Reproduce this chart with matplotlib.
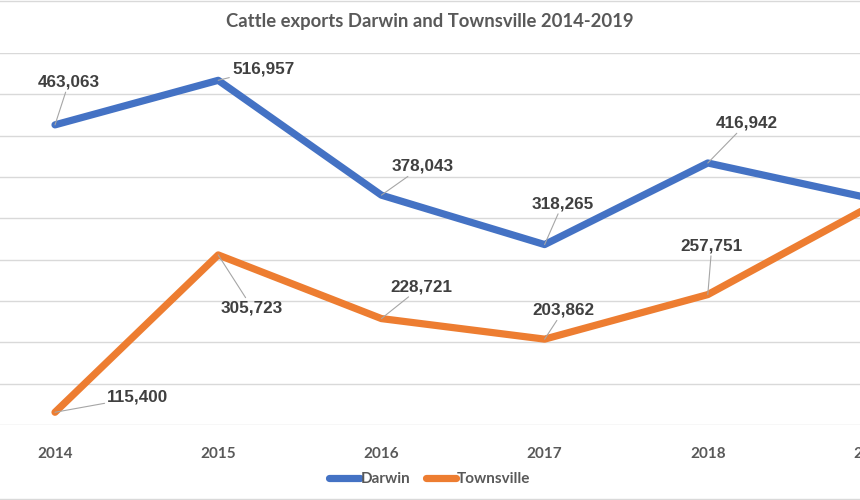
import matplotlib
matplotlib.use("Agg")
import matplotlib.pyplot as plt
from matplotlib.lines import Line2D

# data
years = ["2014", "2015", "2016", "2017", "2018", "2019"]
darwin = [463063, 516957, 378043, 318265, 416942, 374000]
townsville = [115400, 305723, 228721, 203862, 257751, 365000]

# label offsets (pixels) for the data labels that fall inside the crop
darwin_off = [(14, 43), (45, 11), (41, 29), (18, 41), (39, 40)]
townsville_off = [(83, 15), (34, -53), (40, 32), (19, 29), (4, 49)]

grey = "#595959"
blue = "#4472C4"
orange = "#ED7D31"

fig = plt.figure(figsize=(8.6, 5), dpi=100)
# the chart is cropped on the right: axes run past the figure edge
px = 163.2  # pixels per category
x0, x1 = -55 / px, 5.5
ax = fig.add_axes([0, 1 - 425 / 500, (x1 - x0) * px / 860, (425 - 53) / 500])

x = list(range(len(years)))
ax.plot(x, darwin, color=blue, lw=5.2, solid_capstyle="round",
        solid_joinstyle="round", label="Darwin", zorder=3)
ax.plot(x, townsville, color=orange, lw=5.2, solid_capstyle="round",
        solid_joinstyle="round", label="Townsville", zorder=3)

ax.set_xticks(x)
ax.set_xticklabels(years, fontfamily="Lato", fontweight="bold",
                   fontsize=11, color=grey)
ax.set_xlim(x0, x1)
ax.set_ylim(100000, 550000)
ax.set_yticks(range(100000, 550001, 50000))
ax.grid(axis="y", color="#D9D9D9", lw=1)
ax.set_axisbelow(True)
for s in ax.spines.values():
    s.set_visible(False)
ax.tick_params(axis="y", left=False, labelleft=False)
ax.tick_params(axis="x", bottom=False, pad=12)

for series, offs in ((darwin, darwin_off), (townsville, townsville_off)):
    for i, (v, (dx, dy)) in enumerate(zip(series, offs)):
        ax.annotate(f"{v:,}", xy=(i, v), xytext=(dx, dy),
                    textcoords="offset pixels", ha="center", va="center",
                    fontfamily="Liberation Sans", fontweight="bold",
                    fontsize=12.3, color="#404040",
                    arrowprops=dict(arrowstyle="-", color="#A6A6A6",
                                    lw=0.8, shrinkA=0, shrinkB=0))

fig.text(0.5, 1 - 22 / 500, "Cattle exports Darwin and Townsville 2014-2019",
         ha="center", va="center", fontfamily="Lato", fontweight="bold",
         fontsize=13.3, color=grey)

leg = fig.legend(loc="center", bbox_to_anchor=(0.5, 1 - 479 / 500), ncol=2,
                 frameon=False, handlelength=2.0, handletextpad=0.05,
                 columnspacing=1.0,
                 prop={"family": "Lato", "weight": "bold", "size": 11})
for t in leg.get_texts():
    t.set_color(grey)

# thin frame lines top and bottom
fig.add_artist(Line2D([0, 1], [1 - 1 / 500, 1 - 1 / 500], color="#D9D9D9", lw=1))
fig.add_artist(Line2D([0, 1], [1 / 500, 1 / 500], color="#D9D9D9", lw=1))

fig.savefig("out.png", dpi=100)
